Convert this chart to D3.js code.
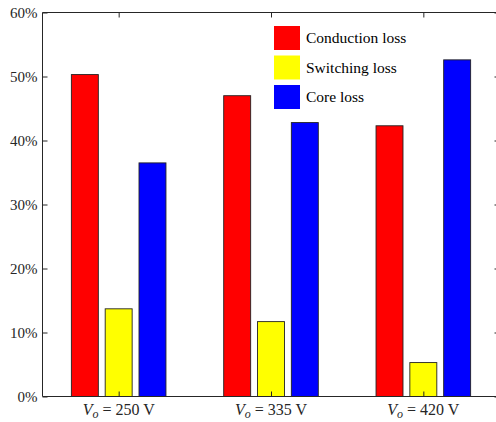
<!DOCTYPE html>
<html>
<head>
<meta charset="utf-8">
<script src="https://cdn.jsdelivr.net/npm/d3@7"></script>
<style>
  html, body { margin: 0; padding: 0; background: #fff; }
  svg { display: block; }
  svg text { font-family: 'Liberation Serif', 'DejaVu Serif', serif !important; }
</style>
</head>
<body>
<svg id="chart" width="496" height="422"></svg>
<script>
// ---- data ----
const categories = ["250", "335", "420"];
const seriesNames = ["Conduction loss", "Switching loss", "Core loss"];
const conductionLoss = [50.3, 47.0, 42.3];
const switchingLoss = [13.7, 11.7, 5.3];
const coreLoss = [36.5, 42.8, 52.6];
const yTicks = [0, 10, 20, 30, 40, 50, 60];
const seriesColors = ["#ff0000", "#ffff00", "#0000ff"];

const series = [conductionLoss, switchingLoss, coreLoss];

const svg = d3.select("#chart");
const pLeft = 42.5, pRight = 499.5, pTop = 12.5, pBottom = 396.5;
const fontFam = "'Liberation Serif', 'DejaVu Serif', serif";

const x = d3.scaleLinear().domain([0.5, 3.5]).range([pLeft, pRight]);
const y = d3.scaleLinear().domain([0, 60]).range([pBottom, pTop]);

const offsets = [-0.222, 0, 0.222];
const barW = 0.177;

// bars
series.forEach((vals, si) => {
  svg.append("g").selectAll("rect").data(vals).join("rect")
    .attr("x", (d, i) => x(i + 1 + offsets[si] - barW / 2))
    .attr("width", x(barW) - x(0))
    .attr("y", d => y(d))
    .attr("height", d => y(0) - y(d))
    .attr("fill", seriesColors[si])
    .attr("stroke", "#222")
    .attr("stroke-width", 0.9);
});

// axes box
const axisColor = "#262626";
const gAx = svg.append("g");
gAx.append("line").attr("x1", pLeft).attr("x2", pLeft).attr("y1", pTop).attr("y2", pBottom).attr("stroke", axisColor);
gAx.append("line").attr("x1", pRight).attr("x2", pRight).attr("y1", pTop).attr("y2", pBottom).attr("stroke", axisColor);
gAx.append("line").attr("x1", pLeft).attr("x2", pRight).attr("y1", pTop).attr("y2", pTop).attr("stroke", axisColor);
gAx.append("line").attr("x1", pLeft).attr("x2", pRight).attr("y1", pBottom).attr("y2", pBottom).attr("stroke", axisColor);

// y axis (inward ticks)
const yAxis = d3.axisLeft(y).tickValues(yTicks).tickSize(-5).tickPadding(5).tickFormat(d => d + "%");
const gy = svg.append("g").attr("transform", `translate(${pLeft},0)`).call(yAxis);
gy.attr("font-family", null).attr("font-size", null);
gy.select(".domain").remove();
gy.selectAll(".tick line").attr("stroke", axisColor);
gy.selectAll(".tick text").style("font-family", fontFam).style("font-size", "15px").attr("fill", axisColor);

const yAxisR = d3.axisRight(y).tickValues(yTicks).tickSize(-5).tickFormat("");
const gyr = svg.append("g").attr("transform", `translate(${pRight},0)`).call(yAxisR);
gyr.select(".domain").remove();
gyr.selectAll(".tick line").attr("stroke", axisColor);

// x ticks
const xAxis = d3.axisBottom(x).tickValues([1, 2, 3]).tickSize(-5).tickFormat("");
const gx = svg.append("g").attr("transform", `translate(0,${pBottom})`).call(xAxis);
gx.select(".domain").remove();
gx.selectAll(".tick line").attr("stroke", axisColor);
const xAxisT = d3.axisTop(x).tickValues([1, 2, 3]).tickSize(-5).tickFormat("");
const gxt = svg.append("g").attr("transform", `translate(0,${pTop})`).call(xAxisT);
gxt.select(".domain").remove();
gxt.selectAll(".tick line").attr("stroke", axisColor);

// x labels
categories.forEach((c, i) => {
  const t = svg.append("text")
    .attr("x", x(i + 1))
    .attr("y", 415)
    .attr("text-anchor", "middle")
    .style("font-family", fontFam)
    .style("font-size", "16px")
    .attr("fill", axisColor);
  t.append("tspan").style("font-style", "italic").text("V");
  t.append("tspan").style("font-style", "italic").style("font-size", "12px").attr("dy", 3).text("o");
  t.append("tspan").attr("dy", -3).text(" = " + c + " V");
});

// legend
const lg = svg.append("g");
seriesNames.forEach((name, i) => {
  const yy = 26 + i * 29.5;
  lg.append("rect").attr("x", 274).attr("y", yy).attr("width", 26).attr("height", 24)
    .attr("fill", seriesColors[i]);
  lg.append("text").attr("x", 306).attr("y", yy + 17)
    .style("font-family", fontFam).style("font-size", "15.5px")
    .attr("fill", "#000").text(name);
});
</script>
</body>
</html>
